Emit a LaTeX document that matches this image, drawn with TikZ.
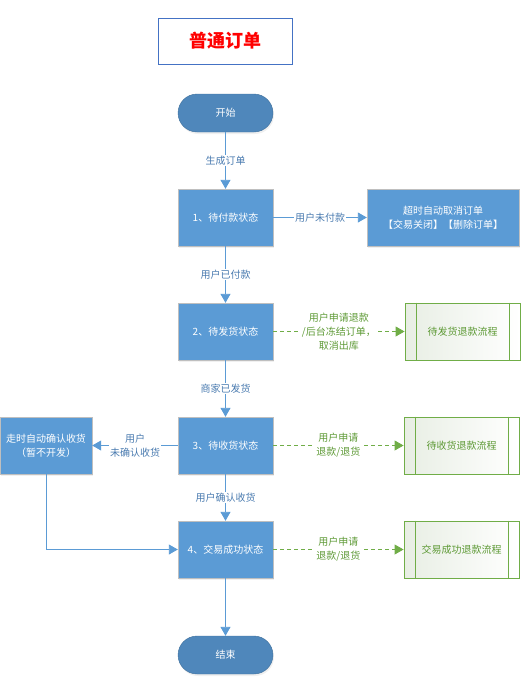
\documentclass[tikz,border=0pt]{standalone}
\usepackage{fontspec}
\setmainfont{Noto Sans CJK SC}
\usetikzlibrary{arrows.meta,shadows}
\definecolor{boxblue}{HTML}{5B9BD5}
\definecolor{termblue}{HTML}{4F87BB}
\definecolor{termedge}{HTML}{41719C}
\definecolor{lineblue}{HTML}{5B9BD5}
\definecolor{textblue}{HTML}{4A7BB0}
\definecolor{flowgreen}{HTML}{70AD47}
\definecolor{textgreen}{HTML}{5E9A36}
\definecolor{procfill}{HTML}{E8EEE4}
\definecolor{titleedge}{HTML}{4472C4}

\begin{document}
\begin{tikzpicture}[x=1pt,y=-1pt,
  every node/.style={font=\fontsize{10}{14}\selectfont},
  state/.style={rectangle,draw=black!25,fill=boxblue,text=white,align=center,
    minimum width=95pt,minimum height=57pt,inner sep=2pt,
    drop shadow={opacity=0.12,shadow xshift=1pt,shadow yshift=-2pt}},
  term/.style={rectangle,rounded corners=19pt,draw=termedge,fill=termblue,text=white,
    minimum width=95pt,minimum height=38pt,
    drop shadow={opacity=0.12,shadow xshift=1pt,shadow yshift=-2pt}},
  proc/.style={rectangle,draw=flowgreen,line width=0.9pt,left color=procfill,right color=white,
    text=textgreen,minimum width=115pt,minimum height=57pt},
  flow/.style={draw=lineblue,line width=0.9pt,-{Triangle[width=10pt,length=9pt]}},
  refund/.style={draw=flowgreen,line width=0.9pt,dash pattern=on 4pt off 3pt,
    -{Triangle[width=10pt,length=9pt]}},
  lbl/.style={fill=white,text=textblue,inner sep=1pt,align=center},
  glbl/.style={fill=white,text=textgreen,inner sep=1pt,align=center}]
\useasboundingbox (0,0) rectangle (526,691);

% title
\node[draw=titleedge,line width=0.9pt,minimum width=134pt,minimum height=46pt,
  text=red,font=\fontsize{18}{20}\selectfont\bfseries] (title) at (225,41) {普通订单};

% main states
\node[term] (start) at (225.5,113) {开始};
\node[state] (s1) at (225.5,217.5) {1、待付款状态};
\node[state] (s2) at (225.5,331.5) {2、待发货状态};
\node[state] (s3) at (225.5,445.5) {3、待收货状态};
\node[state] (s4) at (225.5,549.5) {4、交易成功状态};
\node[term] (stop) at (225.5,655) {结束};

% side boxes
\node[state,minimum width=152pt] (cancel) at (443,217.5) {超时自动取消订单\\【交易关闭】【删除订单】};
\node[state,minimum width=92pt] (auto) at (46,445.5) {走时自动确认收货\\（暂不开发）};
\node[proc] (r2) at (462.5,331.5) {待发货退款流程};
\node[proc] (r3) at (461.5,445.5) {待收货退款流程};
\node[proc] (r4) at (461.5,549.5) {交易成功退款流程};
\foreach \r in {r2,r3,r4}{
  \draw[flowgreen,line width=0.9pt] ([xshift=12pt]\r.north west) -- ([xshift=12pt]\r.south west);
  \draw[flowgreen,line width=0.9pt] ([xshift=-11pt]\r.north east) -- ([xshift=-11pt]\r.south east);
}

% connectors
\draw[flow] (start) -- node[lbl]{生成订单} (s1);
\draw[flow] (s1) -- node[lbl]{用户未付款} (cancel);
\draw[flow] (s1) -- node[lbl]{用户已付款} (s2);
\draw[flow] (s2) -- node[lbl]{商家已发货} (s3);
\draw[flow] (s3) -- node[lbl]{用户\\未确认收货} (auto);
\draw[flow] (s3) -- node[lbl]{用户确认收货} (s4);
\draw[flow] (auto.south) |- (s4.west);
\draw[flow] (s4) -- (stop);
\draw[refund] (s2) -- node[glbl]{用户申请退款\\/后台冻结订单，\\取消出库} (r2);
\draw[refund] (s3) -- node[glbl]{用户申请\\退款/退货} (r3);
\draw[refund] (s4) -- node[glbl]{用户申请\\退款/退货} (r4);
\end{tikzpicture}
\end{document}
